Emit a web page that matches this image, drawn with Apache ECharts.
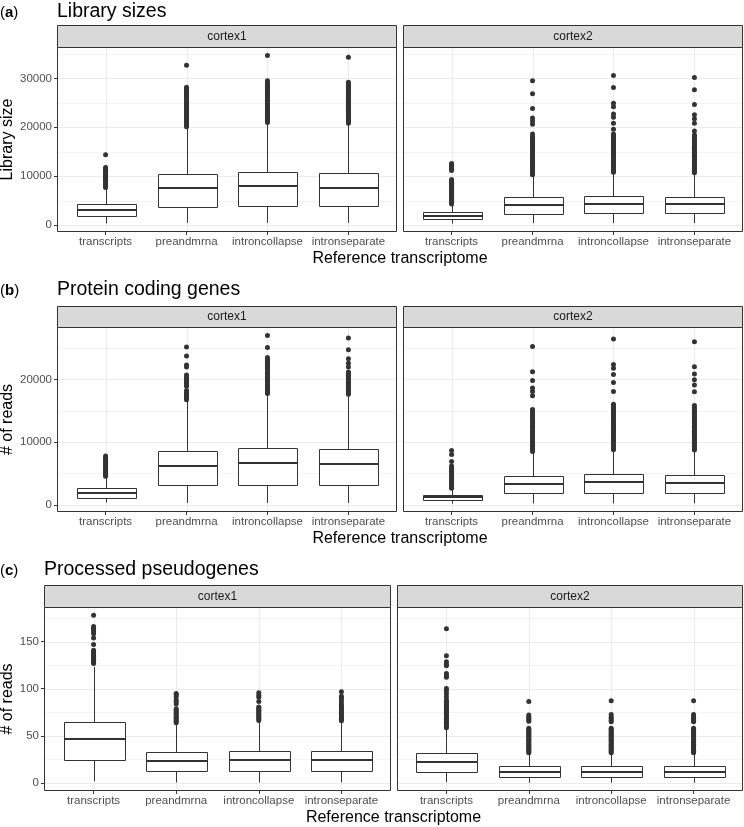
<!DOCTYPE html>
<html><head><meta charset="utf-8">
<script src="https://cdn.jsdelivr.net/npm/echarts@6/dist/echarts.min.js"></script>
<style>html,body{margin:0;padding:0;background:#fff}#chart{width:744px;height:827px}</style>
</head><body><div id="chart"></div>
<script>
// ---------------- DATA ----------------
const categories = ['transcripts', 'preandmrna', 'introncollapse', 'intronseparate'];
const facetNames = ['cortex1', 'cortex2'];
const panelTags = ['a', 'b', 'c'];
const panelTitles = ['Library sizes', 'Protein coding genes', 'Processed pseudogenes'];
const yTitles = ['Library size', '# of reads', '# of reads'];
const xTitle = 'Reference transcriptome';

const libTicks = [0, 10000, 20000, 30000];
const libMinor = [5000, 15000, 25000, 35000];
const pcTicks = [0, 10000, 20000];
const pcMinor = [5000, 15000, 25000];
const ppTicks = [0, 50, 100, 150];
const ppMinor = [25, 75, 125, 175];

// box stats per category: [lower whisker, Q1, median, Q3, upper whisker]
const libC1Stats = [[350, 1780, 3140, 4230, 7500], [450, 3760, 7510, 10380, 19900], [450, 3890, 7920, 10790, 20800], [450, 3830, 7650, 10650, 20600]];
const libC2Stats = [[300, 1160, 1840, 2600, 4100], [400, 2320, 4170, 5670, 10100], [400, 2460, 4300, 5940, 10590], [400, 2460, 4235, 5805, 10520]];
const pcC1Stats = [[370, 1120, 1920, 2610, 4400], [300, 3085, 6170, 8617, 16600], [300, 3191, 6596, 9042, 17600], [300, 3138, 6436, 8936, 17500]];
const pcC2Stats = [[200, 745, 1223, 1596, 2500], [250, 1862, 3351, 4574, 8350], [250, 1968, 3564, 4893, 8670], [250, 1968, 3457, 4787, 8617]];
const ppC1Stats = [[1.8, 24.6, 46.8, 64.8, 123], [0.5, 12.3, 23.6, 33.1, 62.7], [0.5, 12.3, 23.9, 33.8, 65], [0.5, 12.3, 24.3, 33.8, 65]];
const ppC2Stats = [[0.7, 12, 22.2, 31.3, 57], [0.3, 6.7, 12, 17.6, 30], [0.3, 6.7, 12, 17.6, 30], [0.3, 6.7, 12, 17.6, 30]];

// outliers per category
const libC1Out = [
  [7700, 7950, 8200, 8450, 8700, 8950, 9200, 9450, 9700, 9950, 10200, 10450, 10700, 10950, 11200, 11450, 11750, 14400],
  [20100, 20400, 20700, 21000, 21300, 21600, 21900, 22200, 22500, 22800, 23100, 23400, 23700, 24000, 24300, 24600, 24900, 25200, 25500, 25800, 26100, 26400, 26700, 27000, 27300, 27600, 27900, 28200, 32700],
  [21000, 21300, 21600, 21900, 22200, 22500, 22800, 23100, 23400, 23700, 24000, 24300, 24600, 24900, 25200, 25500, 25800, 26100, 26400, 26700, 27000, 27300, 27600, 27900, 28200, 28500, 28800, 29100, 29500, 34700],
  [20800, 21100, 21400, 21700, 22000, 22300, 22600, 22900, 23200, 23500, 23800, 24100, 24400, 24700, 25000, 25300, 25600, 25900, 26200, 26500, 26800, 27100, 27400, 27700, 28000, 28300, 28600, 28900, 29200, 34300]
];
const libC2Out = [
  [4300, 4550, 4800, 5050, 5300, 5550, 5800, 6050, 6300, 6550, 6800, 7050, 7300, 7550, 7800, 8050, 8300, 8550, 8800, 9050, 9300, 11150, 11400, 11650, 11900, 12150, 12400, 12600],
  [10300, 10600, 10900, 11200, 11500, 11800, 12100, 12400, 12700, 13000, 13300, 13600, 13900, 14200, 14500, 14800, 15100, 15400, 15700, 16000, 16300, 16600, 16900, 17200, 17500, 17800, 18100, 18650, 20630, 21300, 21900, 23840, 26840, 29500],
  [10800, 11100, 11400, 11700, 12000, 12300, 12600, 12900, 13200, 13500, 13800, 14100, 14400, 14700, 15000, 15300, 15600, 15900, 16200, 16500, 16800, 17100, 17400, 17700, 18000, 18300, 18600, 19600, 20830, 22060, 22740, 24180, 24930, 28140, 30600],
  [10700, 11000, 11300, 11600, 11900, 12200, 12500, 12800, 13100, 13400, 13700, 14000, 14300, 14600, 14900, 15200, 15500, 15800, 16100, 16400, 16700, 17000, 17300, 17600, 17900, 18200, 18440, 19260, 20830, 21720, 22540, 24660, 27660, 30190]
];
const pcC1Out = [
  [4550, 4800, 5050, 5300, 5550, 5800, 6050, 6300, 6550, 6800, 7050, 7300, 7550, 7800],
  [16750, 17000, 17250, 17500, 17750, 18000, 18250, 18900, 19150, 19400, 19650, 19900, 20150, 20400, 20700, 21970, 22290, 23720, 25160],
  [17750, 18000, 18250, 18500, 18750, 19000, 19250, 19500, 19750, 20000, 20250, 20500, 20750, 21000, 21250, 21500, 21750, 22000, 22250, 22500, 22750, 23000, 23250, 23500, 25100, 27020],
  [17650, 17900, 18150, 18400, 18650, 18900, 19150, 19400, 19650, 19900, 20150, 20400, 20650, 20900, 21200, 21970, 22600, 23300, 24730, 26600]
];
const pcC2Out = [
  [2650, 2900, 3150, 3400, 3650, 3900, 4150, 4400, 4650, 4900, 5150, 5400, 5650, 5900, 6200, 6900, 8030, 8670],
  [8500, 8750, 9000, 9250, 9500, 9750, 10000, 10250, 10500, 10750, 11000, 11250, 11500, 11750, 12000, 12250, 12500, 12750, 13000, 13250, 13500, 13750, 14000, 14250, 14500, 14750, 15000, 15200, 17390, 18080, 18620, 19840, 21220, 25270],
  [8800, 9050, 9300, 9550, 9800, 10050, 10300, 10550, 10800, 11050, 11300, 11550, 11800, 12050, 12300, 12550, 12800, 13050, 13300, 13550, 13800, 14050, 14300, 14550, 14800, 15050, 15300, 15550, 15800, 16060, 18080, 19520, 20800, 21800, 22390, 26440],
  [8750, 9000, 9250, 9500, 9750, 10000, 10250, 10500, 10750, 11000, 11250, 11500, 11750, 12000, 12250, 12500, 12750, 13000, 13250, 13500, 13750, 14000, 14250, 14500, 14750, 15000, 15250, 15500, 15850, 18030, 19100, 19950, 20850, 22020, 26010]
];
const ppC1Out = [
  [126.8, 128.3, 129.8, 131.3, 132.8, 134.3, 135.8, 137.3, 138.8, 140.8, 146.8, 153.9, 158.4, 160.5, 162.5, 164.5, 166, 177.8],
  [63.8, 65.3, 66.8, 68.3, 69.8, 71.3, 72.8, 74.3, 75.8, 77.3, 78.8, 83.8, 86, 88, 91.5, 93.5, 95],
  [66.2, 67.7, 69.2, 70.7, 72.2, 73.7, 75.2, 76.7, 78.2, 79.7, 80.5, 86.3, 90.8, 93, 95.8],
  [66, 67.5, 69, 70.5, 72, 73.5, 75, 76.5, 78, 79.5, 80.5, 82.5, 85.2, 88, 90, 92, 96.8]
];
const ppC2Out = [
  [58.5, 60, 61.5, 63, 64.5, 66, 67.5, 69, 70.5, 72, 73.5, 75, 76.5, 78, 79.5, 81, 82.5, 84, 85.5, 87, 88, 91.5, 95, 97.9, 100.3, 112, 113.4, 116.2, 124.3, 126, 128.5, 134.9, 163.7],
  [32, 33.3, 34.6, 35.9, 37.2, 38.5, 39.8, 41.1, 42.4, 43.7, 45, 46.3, 47.6, 48.9, 50.2, 51.5, 52.8, 54.1, 55.4, 56.7, 58, 65.5, 67, 68.5, 70, 72, 86.3],
  [32, 33.3, 34.6, 35.9, 37.2, 38.5, 39.8, 41.1, 42.4, 43.7, 45, 46.3, 47.6, 48.9, 50.2, 51.5, 52.8, 54.1, 55.4, 56.7, 58, 65, 66.5, 68.5, 70, 72.5, 87.3],
  [32, 33.3, 34.6, 35.9, 37.2, 38.5, 39.8, 41.1, 42.4, 43.7, 45, 46.3, 47.6, 48.9, 50.2, 51.5, 52.8, 54.1, 55.4, 56.7, 58, 65, 66.5, 68.5, 70, 72.5, 87.3]
];

// ---------------- LAYOUT / STYLE ----------------
const FONT = '"Liberation Sans", Arial, Helvetica, sans-serif';
const BOX_HALF = 0.37;
const layout = [
  {top: 47, height: 185, cols: [[57, 397], [403, 743]], stripTop: 25, titleY: 12, xTitleY: 259},
  {top: 327, height: 185, cols: [[57, 397], [403, 743]], stripTop: 306, titleY: 290, xTitleY: 539},
  {top: 607, height: 184, cols: [[44, 391], [397, 743]], stripTop: 585, titleY: 570, xTitleY: 818}
];
const panelData = [
  {ticks: libTicks, minor: libMinor, stats: [libC1Stats, libC2Stats], out: [libC1Out, libC2Out]},
  {ticks: pcTicks, minor: pcMinor, stats: [pcC1Stats, pcC2Stats], out: [pcC1Out, pcC2Out]},
  {ticks: ppTicks, minor: ppMinor, stats: [ppC1Stats, ppC2Stats], out: [ppC1Out, ppC2Out]}
];

function yExtent(pd) {
  let lo = Infinity, hi = -Infinity;
  pd.stats.forEach(s => s.forEach(r => r.forEach(v => { lo = Math.min(lo, v); hi = Math.max(hi, v); })));
  pd.out.forEach(o => o.forEach(r => r.forEach(v => { lo = Math.min(lo, v); hi = Math.max(hi, v); })));
  const pad = (hi - lo) * 0.05;
  return [lo - pad, hi + pad];
}

function renderBox(params, api) {
  const x = api.value(0);
  const pLow = api.coord([x, api.value(1)]);
  const pQ1 = api.coord([x, api.value(2)]);
  const pMed = api.coord([x, api.value(3)]);
  const pQ3 = api.coord([x, api.value(4)]);
  const pHigh = api.coord([x, api.value(5)]);
  const hw = api.size([BOX_HALF, 0])[0];
  const cx = Math.round(pMed[0]) + 0.5;
  const x0 = Math.round(cx - hw) + 0.5, x1 = Math.round(cx + hw) + 0.5;
  const yq3 = Math.round(pQ3[1]) + 0.5, yq1 = Math.round(pQ1[1]) + 0.5;
  const ln = (a, b, c, d, w) => ({type: 'line', shape: {x1: a, y1: b, x2: c, y2: d}, style: {stroke: '#333333', lineWidth: w}});
  return {type: 'group', children: [
    ln(cx, pLow[1], cx, yq1, 1),
    ln(cx, yq3, cx, pHigh[1], 1),
    {type: 'rect', shape: {x: x0, y: yq3, width: x1 - x0, height: yq1 - yq3}, style: {fill: '#ffffff', stroke: '#333333', lineWidth: 1}},
    ln(x0, Math.round(pMed[1]), x1, Math.round(pMed[1]), 2)
  ]};
}
function renderHGrid(params, api) {
  const cs = params.coordSys;
  const y = Math.round(api.coord([0, api.value(0)])[1]) + 0.5;
  const major = api.value(1) === 1;
  return {type: 'line', shape: {x1: cs.x, y1: y, x2: cs.x + cs.width, y2: y},
    style: {stroke: major ? '#EBEBEB' : '#F3F3F3', lineWidth: 1}};
}
function renderVGrid(params, api) {
  const cs = params.coordSys;
  const x = Math.round(api.coord([api.value(0), 0])[0]) + 0.5;
  return {type: 'line', shape: {x1: x, y1: cs.y, x2: x, y2: cs.y + cs.height},
    style: {stroke: '#EBEBEB', lineWidth: 1}};
}

const grids = [], xAxes = [], yAxes = [], series = [], graphics = [];
const catIdx = categories.map((c, i) => i);

panelData.forEach((pd, p) => {
  const L = layout[p];
  const ext = yExtent(pd);
  facetNames.forEach((fname, f) => {
    const gi = p * 2 + f;
    const [c0, c1] = L.cols[f];
    grids.push({left: c0, top: L.top, width: c1 - c0, height: L.height, containLabel: false, outerBoundsMode: 'none', show: false});
    xAxes.push({
      type: 'value', gridIndex: gi, min: -0.6, max: 3.6, position: 'bottom',
      axisLine: {show: false, onZero: false}, splitLine: {show: false},
      axisTick: {show: true, inside: false, customValues: catIdx, length: 3, lineStyle: {color: '#333333', width: 1}},
      axisLabel: {show: true, customValues: catIdx, formatter: v => categories[Math.round(v)],
        color: '#4D4D4D', fontSize: 11.5, fontFamily: FONT, margin: 4}
    });
    yAxes.push({
      type: 'value', gridIndex: gi, min: ext[0], max: ext[1], position: 'left',
      axisLine: {show: false, onZero: false}, splitLine: {show: false},
      axisTick: {show: f === 0, inside: false, customValues: pd.ticks, length: 3, lineStyle: {color: '#333333', width: 1}},
      axisLabel: {show: f === 0, customValues: pd.ticks, color: '#4D4D4D', fontSize: 11.5, fontFamily: FONT, margin: 5,
        formatter: v => String(v)}
    });
    // grid lines
    const hData = pd.ticks.map(v => [v, 1]).concat(pd.minor.filter(v => v < ext[1]).map(v => [v, 0]));
    series.push({type: 'custom', xAxisIndex: gi, yAxisIndex: gi, data: hData, encode: {y: 0}, renderItem: renderHGrid, silent: true, z: 1});
    series.push({type: 'custom', xAxisIndex: gi, yAxisIndex: gi, data: catIdx.map(i => [i]), encode: {x: 0}, renderItem: renderVGrid, silent: true, z: 1});
    // boxes
    const boxData = pd.stats[f].map((s, i) => [i].concat(s));
    series.push({type: 'custom', xAxisIndex: gi, yAxisIndex: gi, data: boxData, encode: {x: 0, y: [1, 2, 3, 4, 5]}, renderItem: renderBox, z: 3});
    // outliers
    const outData = [];
    pd.out[f].forEach((arr, i) => arr.forEach(v => outData.push([i, v])));
    series.push({type: 'scatter', xAxisIndex: gi, yAxisIndex: gi, data: outData, symbol: 'circle', symbolSize: 5,
      itemStyle: {color: '#333333', opacity: 1}, z: 4, silent: true});
    // panel border
    graphics.push({type: 'rect', z: 100, silent: true,
      shape: {x: c0 + 0.5, y: L.top + 0.5, width: c1 - c0 - 1, height: L.height - 1},
      style: {fill: 'none', stroke: '#333333', lineWidth: 1}});
    // strip
    graphics.push({type: 'rect', z: 100, silent: true,
      shape: {x: c0 + 0.5, y: L.stripTop + 0.5, width: c1 - c0 - 1, height: L.top - L.stripTop},
      style: {fill: '#D9D9D9', stroke: '#333333', lineWidth: 1}});
    graphics.push({type: 'text', z: 101, silent: true, x: (c0 + c1) / 2, y: (L.stripTop + L.top) / 2 + 0.5,
      style: {text: fname, fill: '#1A1A1A', fontSize: 12, fontFamily: FONT, align: 'center', verticalAlign: 'middle'}});
  });
  const left = L.cols[0][0], right = L.cols[1][1];
  graphics.push({type: 'text', z: 101, silent: true, x: 0, y: L.titleY + 1,
    style: {text: '({b|' + panelTags[p] + '})', fill: '#000', fontSize: 15, fontFamily: FONT, align: 'left', verticalAlign: 'middle',
      rich: {b: {fontWeight: 'bold', fontSize: 15, fontFamily: FONT, fill: '#000'}}}});
  graphics.push({type: 'text', z: 101, silent: true, x: left, y: L.titleY,
    style: {text: panelTitles[p], fill: '#000', fontSize: 19.5, fontFamily: FONT, align: 'left', verticalAlign: 'middle'}});
  graphics.push({type: 'text', z: 101, silent: true, x: (left + right) / 2, y: L.xTitleY,
    style: {text: xTitle, fill: '#000', fontSize: 16, fontFamily: FONT, align: 'center', verticalAlign: 'middle'}});
  graphics.push({type: 'text', z: 101, silent: true, x: 8, y: L.top + L.height / 2, rotation: Math.PI / 2,
    style: {text: yTitles[p], fill: '#000', fontSize: 16, fontFamily: FONT, align: 'center', verticalAlign: 'middle'}});
});

const chart = echarts.init(document.getElementById('chart'), null, {renderer: 'canvas'});
chart.setOption({
  animation: false,
  backgroundColor: '#ffffff',
  grid: grids, xAxis: xAxes, yAxis: yAxes, series: series,
  graphic: {elements: graphics}
});
</script>
</body></html>
